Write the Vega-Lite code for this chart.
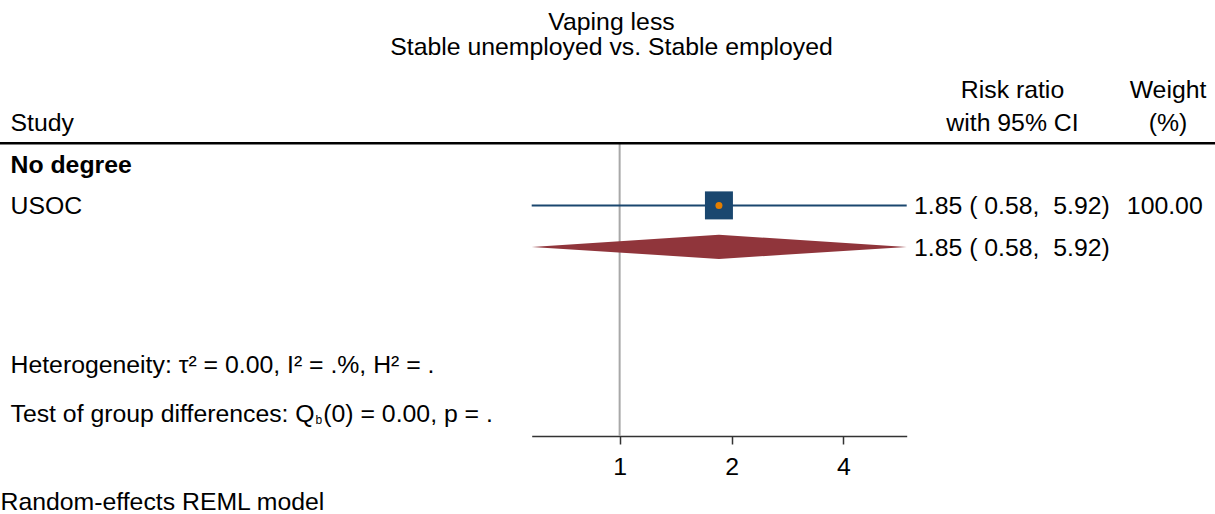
{
  "$schema": "https://vega.github.io/schema/vega-lite/v6.json",
  "width": 1215,
  "height": 436,
  "autosize": {"type": "none"},
  "padding": {"left": 0, "top": 0, "right": 0, "bottom": 78},
  "background": "#ffffff",
  "config": {"view": {"stroke": null}, "font": "Liberation Sans"},
  "datasets": {
    "reference": [{"null_ratio": 1}],
    "studies": [{"group": "No degree", "study": "USOC", "es": 1.85, "lci": 0.58, "uci": 5.92, "es_ci": "1.85 ( 0.58, \u00a05.92)", "weight": "100.00", "row": 5}],
    "overall": [{"es": 1.85, "lci": 0.58, "uci": 5.92, "es_ci": "1.85 ( 0.58, \u00a05.92)", "row": 6}],
    "diamond": [
      {"x": 0.58, "top": 6, "bottom": 6},
      {"x": 1.85, "top": 5.71, "bottom": 6.29},
      {"x": 5.92, "top": 6, "bottom": 6}
    ],
    "groups": [{"group": "No degree", "row": 4}],
    "titles": [
      {"text": "Vaping less", "row": 0.555},
      {"text": "Stable unemployed vs. Stable employed", "row": 1.17}
    ],
    "headers": [
      {"text": "Study", "col": 0, "row": 3},
      {"text": "Risk ratio", "col": 5, "row": 2.2},
      {"text": "with 95% CI", "col": 5, "row": 3},
      {"text": "Weight", "col": 6, "row": 2.2},
      {"text": "(%)", "col": 6, "row": 3}
    ],
    "stats": [
      {"text": "Heterogeneity: τ² = 0.00, I² = .%, H² = .", "col": 0, "row": 8.84},
      {"text": "Test of group differences: Q", "col": 0, "row": 10},
      {"text": "b", "col": 1, "row": 10},
      {"text": "(0) = 0.00, p = .", "col": 2, "row": 10}
    ]
  },
  "layer": [
    {
      "layer": [
        {
          "data": {"name": "reference"},
          "mark": {"type": "rule", "color": "#a8a8a8", "strokeWidth": 2},
          "encoding": {
            "x": {"field": "null_ratio", "type": "quantitative",
              "scale": {"type": "log", "domain": [0.58, 5.92], "range": [531.7, 906.7], "nice": false},
              "axis": {"values": [1, 2, 4], "format": "~g", "grid": false, "tickSize": 8, "tickWidth": 1.5, "tickColor": "#333333",
                "domainColor": "#333333", "domainWidth": 1.5, "labelFontSize": 24.8, "labelFont": "Liberation Sans", "labelColor": "#000000",
                "labelPadding": 10, "labelFlush": false, "labelOverlap": false,
                "title": "Random-effects REML model", "titleX": 0, "titleY": 73.5, "titleAlign": "left", "titleAnchor": "start",
                "titleBaseline": "alphabetic", "titleFontSize": 24.8, "titleFontWeight": "normal", "titleColor": "#000000", "titleFont": "Liberation Sans"}},
            "y": {"datum": 3.5, "type": "quantitative", "scale": {"domain": [0.05, 10.558], "reverse": true, "nice": false, "zero": false}, "axis": null},
            "y2": {"datum": 10.558}
          }
        },
        {
          "data": {"name": "studies"},
          "mark": {"type": "rule", "color": "#1a476f", "strokeWidth": 2},
          "encoding": {
            "x": {"field": "lci", "type": "quantitative", "scale": {"type": "log", "domain": [0.58, 5.92], "range": [531.7, 906.7], "nice": false}},
            "x2": {"field": "uci"},
            "y": {"field": "row", "type": "quantitative", "axis": null}
          }
        },
        {
          "data": {"name": "diamond"},
          "mark": {"type": "area", "color": "#90353b", "opacity": 1},
          "encoding": {
            "x": {"field": "x", "type": "quantitative", "scale": {"type": "log", "domain": [0.58, 5.92], "range": [531.7, 906.7], "nice": false}},
            "y": {"field": "top", "type": "quantitative", "axis": null},
            "y2": {"field": "bottom"}
          }
        },
        {
          "data": {"name": "studies"},
          "mark": {"type": "point", "shape": "square", "filled": true, "size": 784, "color": "#1a476f", "opacity": 1},
          "encoding": {
            "x": {"field": "es", "type": "quantitative", "scale": {"type": "log", "domain": [0.58, 5.92], "range": [531.7, 906.7], "nice": false}},
            "y": {"field": "row", "type": "quantitative", "axis": null}
          }
        },
        {
          "data": {"name": "studies"},
          "mark": {"type": "point", "shape": "circle", "filled": true, "size": 49, "color": "#e37e00", "opacity": 1},
          "encoding": {
            "x": {"field": "es", "type": "quantitative", "scale": {"type": "log", "domain": [0.58, 5.92], "range": [531.7, 906.7], "nice": false}},
            "y": {"field": "row", "type": "quantitative", "axis": null}
          }
        }
      ]
    },
    {
      "layer": [
        {
          "data": {"values": [{}]},
          "mark": {"type": "rule", "color": "#000000", "strokeWidth": 2.5},
          "encoding": {"y": {"datum": 3.5, "type": "quantitative", "axis": null}}
        },
        {
          "data": {"name": "titles"},
          "mark": {"type": "text", "font": "Liberation Sans", "fontSize": 24.8, "color": "#000000", "align": "center", "baseline": "alphabetic", "dy": 8.7},
          "encoding": {
            "x": {"datum": 3, "type": "quantitative", "scale": {"type": "linear", "domain": [0, 1, 2, 3, 4, 5, 6, 7], "range": [10.5, 315.5, 323.3, 611.5, 914, 1012.5, 1168, 1202.7], "nice": false, "zero": false}, "axis": null},
            "y": {"field": "row", "type": "quantitative", "axis": null},
            "text": {"field": "text"}
          }
        },
        {
          "data": {"name": "headers"},
          "transform": [{"filter": "datum.col == 0"}],
          "mark": {"type": "text", "font": "Liberation Sans", "fontSize": 24.8, "color": "#000000", "align": "left", "baseline": "alphabetic", "dy": 8.7},
          "encoding": {
            "x": {"field": "col", "type": "quantitative", "axis": null},
            "y": {"field": "row", "type": "quantitative", "axis": null},
            "text": {"field": "text"}
          }
        },
        {
          "data": {"name": "headers"},
          "transform": [{"filter": "datum.col > 0"}],
          "mark": {"type": "text", "font": "Liberation Sans", "fontSize": 24.8, "color": "#000000", "align": "center", "baseline": "alphabetic", "dy": 8.7},
          "encoding": {
            "x": {"field": "col", "type": "quantitative", "axis": null},
            "y": {"field": "row", "type": "quantitative", "axis": null},
            "text": {"field": "text"}
          }
        },
        {
          "data": {"name": "groups"},
          "mark": {"type": "text", "font": "Liberation Sans", "fontSize": 24.8, "fontWeight": "bold", "color": "#000000", "align": "left", "baseline": "alphabetic", "dy": 8.7},
          "encoding": {
            "x": {"datum": 0, "type": "quantitative", "axis": null},
            "y": {"field": "row", "type": "quantitative", "axis": null},
            "text": {"field": "group"}
          }
        },
        {
          "data": {"name": "studies"},
          "mark": {"type": "text", "font": "Liberation Sans", "fontSize": 24.8, "color": "#000000", "align": "left", "baseline": "alphabetic", "dy": 8.7},
          "encoding": {
            "x": {"datum": 0, "type": "quantitative", "axis": null},
            "y": {"field": "row", "type": "quantitative", "axis": null},
            "text": {"field": "study"}
          }
        },
        {
          "data": {"name": "studies"},
          "mark": {"type": "text", "font": "Liberation Sans", "fontSize": 24.8, "color": "#000000", "align": "left", "baseline": "alphabetic", "dy": 8.7},
          "encoding": {
            "x": {"datum": 4, "type": "quantitative", "axis": null},
            "y": {"field": "row", "type": "quantitative", "axis": null},
            "text": {"field": "es_ci"}
          }
        },
        {
          "data": {"name": "studies"},
          "mark": {"type": "text", "font": "Liberation Sans", "fontSize": 24.8, "color": "#000000", "align": "right", "baseline": "alphabetic", "dy": 8.7},
          "encoding": {
            "x": {"datum": 7, "type": "quantitative", "axis": null},
            "y": {"field": "row", "type": "quantitative", "axis": null},
            "text": {"field": "weight"}
          }
        },
        {
          "data": {"name": "overall"},
          "mark": {"type": "text", "font": "Liberation Sans", "fontSize": 24.8, "color": "#000000", "align": "left", "baseline": "alphabetic", "dy": 8.7},
          "encoding": {
            "x": {"datum": 4, "type": "quantitative", "axis": null},
            "y": {"field": "row", "type": "quantitative", "axis": null},
            "text": {"field": "es_ci"}
          }
        },
        {
          "data": {"name": "stats"},
          "transform": [{"filter": "datum.col != 1"}],
          "mark": {"type": "text", "font": "Liberation Sans", "fontSize": 24.8, "color": "#000000", "align": "left", "baseline": "alphabetic", "dy": 8.7},
          "encoding": {
            "x": {"field": "col", "type": "quantitative", "axis": null},
            "y": {"field": "row", "type": "quantitative", "axis": null},
            "text": {"field": "text"}
          }
        },
        {
          "data": {"name": "stats"},
          "transform": [{"filter": "datum.col == 1"}],
          "mark": {"type": "text", "font": "Liberation Sans", "fontSize": 12, "color": "#000000", "align": "left", "baseline": "alphabetic", "dy": 10.7},
          "encoding": {
            "x": {"field": "col", "type": "quantitative", "axis": null},
            "y": {"field": "row", "type": "quantitative", "axis": null},
            "text": {"field": "text"}
          }
        }
      ]
    }
  ],
  "resolve": {"scale": {"x": "independent"}}
}
